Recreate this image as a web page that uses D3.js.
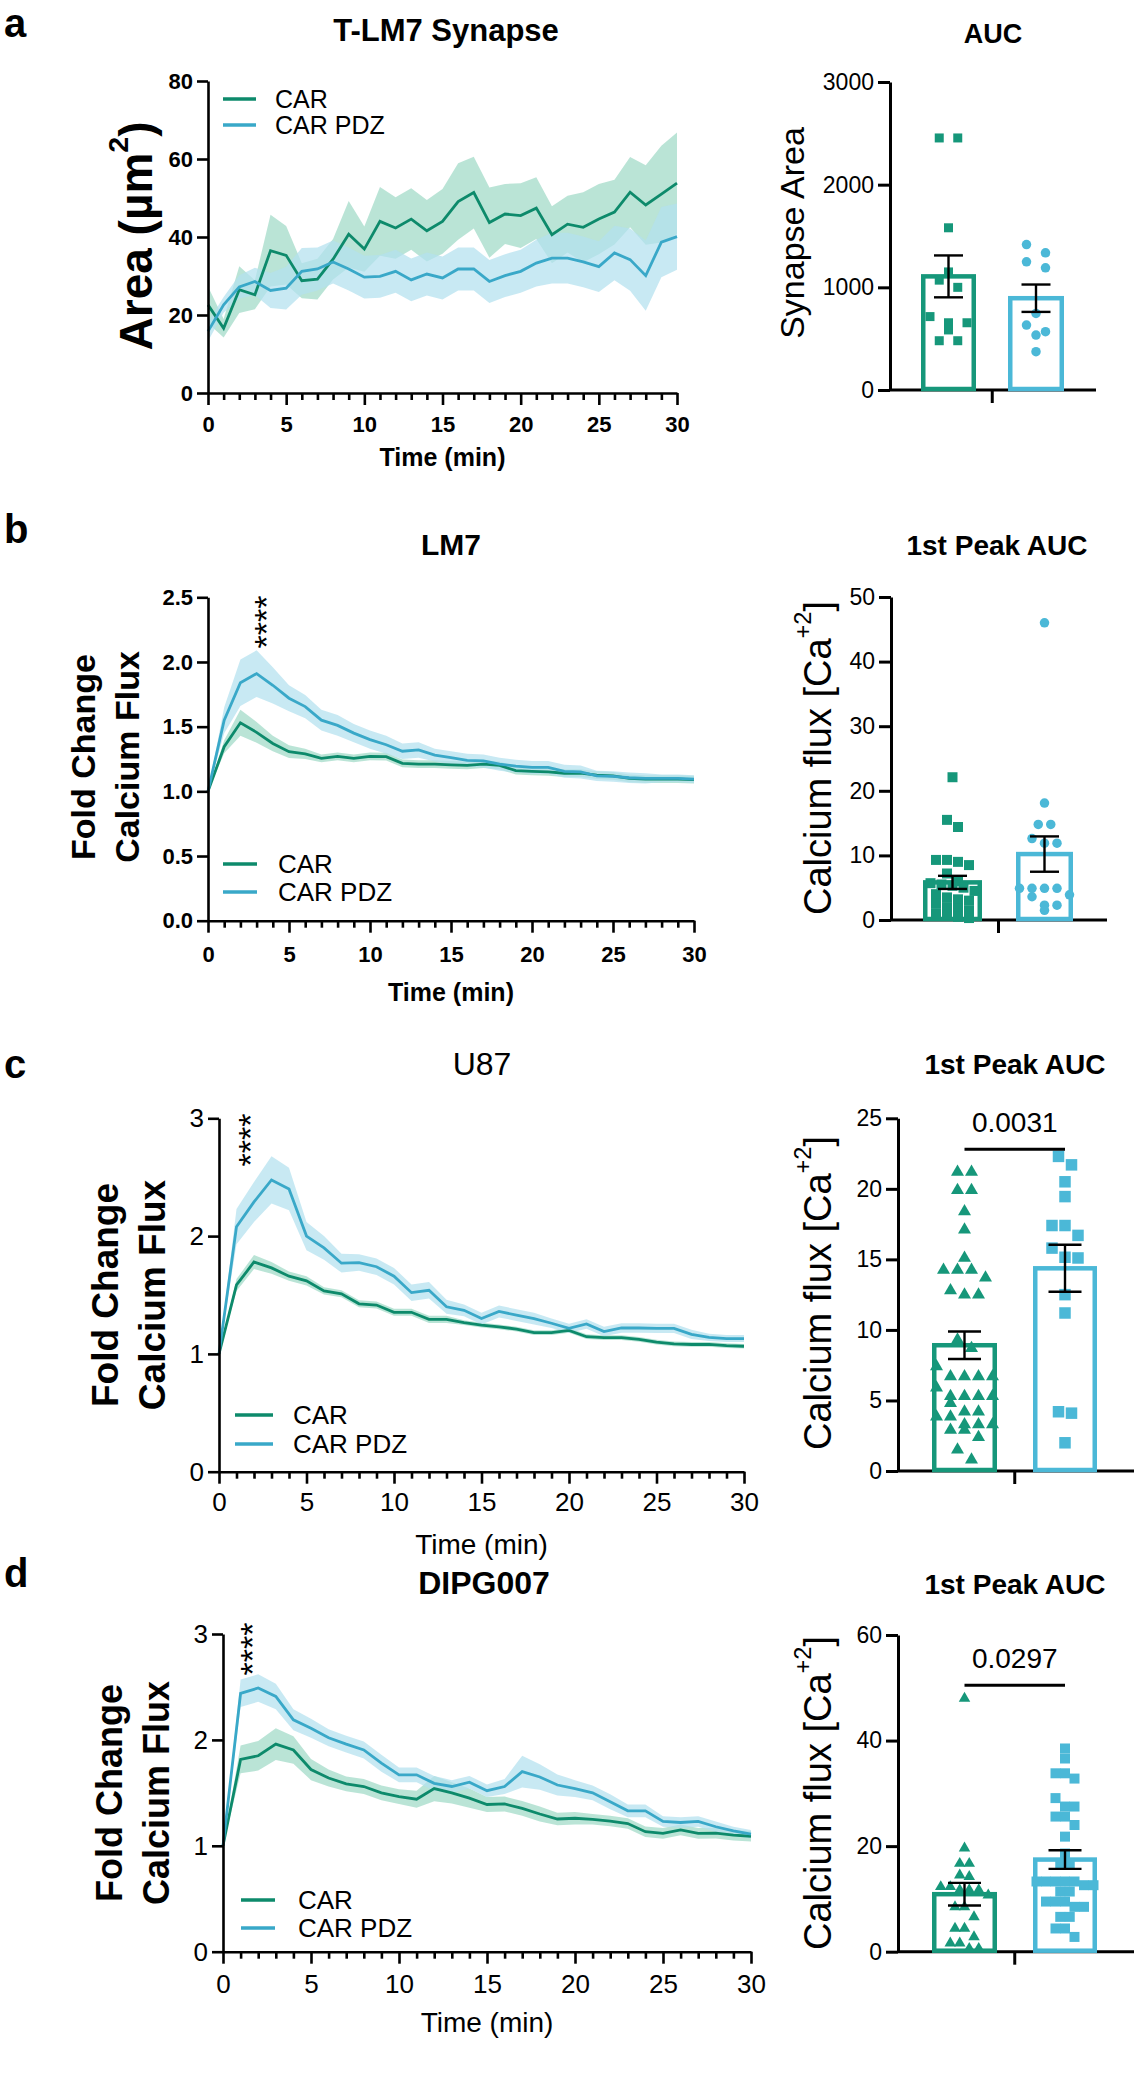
<!DOCTYPE html>
<html><head><meta charset="utf-8">
<script src="https://cdn.jsdelivr.net/npm/d3@7"></script>
<style>body{margin:0;background:#fff}</style>
</head><body>
<script>
// ---------- DATA ----------
const minutes = [0,1,2,3,4,5,6,7,8,9,10,11,12,13,14,15,16,17,18,19,20,21,22,23,24,25,26,27,28,29,30];
const seriesNames = ["CAR","CAR PDZ"];

// Panel a: T-LM7 synapse area (mean, SEM)
const aCarMean = [22.6,16.6,26.5,25.2,36.5,35.3,28.8,29.2,34.3,40.7,36.9,44.0,42.3,44.6,41.6,44.0,49.1,51.4,43.7,45.9,45.5,47.4,40.6,43.3,42.5,44.6,46.4,51.5,48.2,51.0,53.8];
const aCarSem  = [4.7,2.4,6.0,3.7,9.2,7.5,4.5,5.2,5.2,8.5,5.8,8.8,7.9,7.9,7.9,8.3,9.8,9.2,9.0,7.7,8.3,7.9,7.3,7.3,9.0,9.0,8.3,9.0,10.2,12.4,13.0];
const aPdzMean = [15.8,22.6,27.2,28.6,26.3,26.9,31.2,31.8,33.6,31.8,29.7,29.9,31.2,29.0,30.5,29.5,31.8,31.8,28.6,30.1,31.2,33.3,34.6,34.6,33.6,32.4,35.9,34.2,30.1,38.7,40.1];
const aPdzSem  = [2.5,2.0,3.0,3.5,4.5,5.5,6.0,5.5,5.5,5.5,5.5,5.5,5.5,5.5,5.5,5.5,5.5,5.5,5.5,5.5,5.5,6.0,6.5,6.5,6.5,6.5,7.0,8.0,9.0,9.0,8.5];
const aAucCar = [2455,2455,1580,1150,1070,1000,715,655,655,585,480,480];
const aAucPdz = [1417,1336,1249,1190,746,632,568,535,373];

// Panel b: LM7 calcium flux
const bCarMean = [1.0,1.345,1.53,1.456,1.37,1.307,1.29,1.255,1.27,1.255,1.27,1.268,1.216,1.21,1.21,1.205,1.2,1.21,1.2,1.16,1.155,1.15,1.14,1.14,1.126,1.12,1.1,1.095,1.095,1.095,1.09];
const bCarSem  = [0,0.05,0.1,0.08,0.06,0.05,0.04,0.03,0.03,0.03,0.03,0.03,0.03,0.03,0.03,0.03,0.03,0.03,0.03,0.03,0.03,0.03,0.03,0.03,0.03,0.03,0.03,0.03,0.03,0.03,0.03];
const bPdzMean = [1.0,1.55,1.84,1.91,1.82,1.72,1.655,1.55,1.51,1.45,1.40,1.36,1.31,1.32,1.28,1.26,1.24,1.235,1.21,1.195,1.185,1.185,1.155,1.15,1.12,1.115,1.105,1.1,1.1,1.1,1.095];
const bPdzSem  = [0,0.1,0.18,0.18,0.14,0.1,0.09,0.08,0.08,0.07,0.07,0.07,0.06,0.06,0.05,0.05,0.05,0.05,0.05,0.05,0.05,0.05,0.05,0.05,0.04,0.04,0.04,0.04,0.03,0.03,0.03];
const bAucCar = [22.1,15.5,14.4,9.3,9.3,9.0,8.5,7.2,6.0,5.7,5.5,5.3,5.0,4.5,4.0,3.5,3.2,3.0,2.5,2.0,1.8,1.5,1.0,0.8,0.5,0.3];
const bAucPdz = [46.0,18.1,14.8,14.8,12.6,11.9,11.9,4.9,4.9,4.9,4.9,3.9,3.6,2.3,2.3,1.5];

// Panel c: U87 calcium flux
const cCarMean = [1.0,1.585,1.78,1.73,1.66,1.62,1.535,1.51,1.425,1.415,1.353,1.353,1.293,1.293,1.265,1.245,1.23,1.21,1.18,1.18,1.2,1.146,1.138,1.138,1.124,1.10,1.085,1.08,1.08,1.07,1.065];
const cCarSem  = [0,0.05,0.06,0.05,0.04,0.04,0.03,0.03,0.03,0.03,0.03,0.03,0.03,0.03,0.02,0.02,0.02,0.02,0.02,0.02,0.02,0.02,0.02,0.02,0.02,0.02,0.02,0.02,0.02,0.02,0.02];
const cPdzMean = [1.0,2.08,2.29,2.477,2.4,2.0,1.9,1.77,1.775,1.74,1.66,1.52,1.54,1.4,1.37,1.3,1.36,1.33,1.3,1.26,1.217,1.254,1.19,1.22,1.22,1.217,1.217,1.166,1.14,1.13,1.13];
const cPdzSem  = [0,0.15,0.17,0.2,0.18,0.12,0.1,0.08,0.07,0.07,0.07,0.07,0.07,0.06,0.05,0.05,0.05,0.05,0.05,0.04,0.04,0.04,0.04,0.04,0.04,0.04,0.04,0.04,0.03,0.03,0.03];
const cAucCar = [21.2,21.2,19.9,19.9,18.4,17.1,15.1,14.25,14.25,14.25,13.7,12.8,12.5,12.5,9.3,8.7,7.4,6.7,6.7,6.7,6.7,5.9,5.3,5.3,5.3,5.3,4.8,4.2,4.2,3.85,3.85,3.3,3.3,3.3,2.9,2.9,2.4,1.5,0.8];
const cAucPdz = [22.3,21.7,20.5,19.45,17.4,17.4,16.7,15.8,15.15,15.1,12.5,11.2,4.2,4.1,2.0];
const cPValue = "0.0031";

// Panel d: DIPG007 calcium flux
const dCarMean = [1.0,1.816,1.85,1.96,1.905,1.72,1.64,1.585,1.56,1.5,1.465,1.44,1.54,1.5,1.45,1.39,1.395,1.353,1.3,1.253,1.26,1.25,1.234,1.21,1.133,1.117,1.15,1.117,1.12,1.1,1.09];
const dCarSem  = [0,0.13,0.14,0.15,0.13,0.1,0.08,0.07,0.07,0.07,0.07,0.08,0.12,0.1,0.09,0.07,0.07,0.07,0.07,0.06,0.06,0.05,0.05,0.05,0.05,0.05,0.05,0.05,0.05,0.05,0.05];
const dPdzMean = [1.0,2.44,2.49,2.41,2.19,2.11,2.02,1.96,1.905,1.78,1.67,1.67,1.59,1.56,1.6,1.52,1.56,1.7,1.65,1.574,1.54,1.5,1.416,1.33,1.33,1.23,1.22,1.23,1.18,1.14,1.11];
const dPdzSem  = [0,0.13,0.13,0.12,0.1,0.09,0.08,0.08,0.08,0.08,0.07,0.07,0.07,0.06,0.06,0.06,0.07,0.15,0.12,0.1,0.08,0.07,0.07,0.06,0.06,0.05,0.05,0.05,0.05,0.04,0.04];
const dAucCar = [48,19.6,16.7,16.7,14.5,14.2,12.3,12.3,11.7,11.7,11.7,10.7,8.5,8.5,6.6,4.4,4.4,2.8,1.6,1.6,0.6,0.6];
const dAucPdz = [38.5,36.6,33.8,33.8,32.8,29.1,27.5,27.5,25.6,25.6,24.0,21.8,18.6,16.7,16.7,13.3,13.3,13.3,13.3,13.3,12.6,12.6,11.4,11.4,9.5,9.5,9.5,8.5,8.5,6.6,6.6,4.4,4.4,2.8];
const dPValue = "0.0297";

// tick labels
const majorMinutes = [0,5,10,15,20,25,30];
const aYTicks = [0,20,40,60,80], aAucTicks = [0,1000,2000,3000];
const bYTicks = [0,0.5,1.0,1.5,2.0,2.5], bAucTicks = [0,10,20,30,40,50];
const cYTicks = [0,1,2,3], cAucTicks = [0,5,10,15,20,25];
const dYTicks = [0,1,2,3], dAucTicks = [0,20,40,60];

// ---------- STYLE ----------
const FONT = "'Liberation Sans', Arial, Helvetica, sans-serif";
const GREEN_LINE = "#0d8a6b", GREEN = "#16977a", GREEN_BAND = "#9fd9c6";
const BLUE_LINE = "#39a8c8", BLUE = "#4bb8d7", BLUE_BAND = "#b3e0ee";

const svg = d3.select("body").append("svg").attr("width",1134).attr("height",2100)
  .style("font-family", FONT);

function styleAxis(g, sw){
  g.selectAll("path.domain").attr("stroke","#000").attr("stroke-width",sw);
  g.selectAll(".tick line").attr("stroke","#000").attr("stroke-width",sw);
  g.selectAll("text").attr("fill","#000").style("font-family",FONT);
}

function addText(x,y,txt,size,weight,anchor){
  return svg.append("text").attr("x",x).attr("y",y).attr("font-size",size)
    .attr("font-weight",weight||400).attr("text-anchor",anchor||"middle").attr("fill","#000").text(txt);
}

function rotLabel(cx,cy,size,weight,parts){
  const t = svg.append("text").attr("transform",`translate(${cx},${cy}) rotate(-90)`)
    .attr("text-anchor","middle").attr("dominant-baseline","central")
    .attr("font-size",size).attr("font-weight",weight).attr("fill","#000");
  parts.forEach(p=>{
    const ts = t.append("tspan").text(p.t);
    if(p.sup){ ts.attr("font-size",size*0.62).attr("dy",-size*0.4); }
    if(p.after){ ts.attr("dy",size*0.4); }
  });
  return t;
}

// ---------- LINE PANELS ----------
function linePanel(p){
  const x = d3.scaleLinear().domain([0,30]).range([p.x0,p.x1]);
  const y = d3.scaleLinear().domain([0,p.ymax]).range([p.yb,p.yt]);
  const g = svg.append("g");
  const mk = (m,s)=>minutes.map((t,i)=>({t,m:m[i],s:s[i]}));
  const series = [
    {d:mk(p.car,p.carSem), line:GREEN_LINE, band:GREEN_BAND},
    {d:mk(p.pdz,p.pdzSem), line:BLUE_LINE, band:BLUE_BAND}
  ];
  const area = d3.area().x(d=>x(d.t)).y0(d=>y(d.m-d.s)).y1(d=>y(d.m+d.s));
  const line = d3.line().x(d=>x(d.t)).y(d=>y(d.m));
  series.forEach(s=>g.append("path").attr("d",area(s.d)).attr("fill",s.band).attr("fill-opacity",0.72));
  series.forEach(s=>g.append("path").attr("d",line(s.d)).attr("fill","none").attr("stroke",s.line).attr("stroke-width",2.8));

  // axes
  const ya = g.append("g").attr("transform",`translate(${p.x0},0)`)
    .call(d3.axisLeft(y).tickValues(p.yticks).tickSize(11).tickSizeOuter(0).tickPadding(4).tickFormat(p.yfmt));
  ya.selectAll("text").attr("font-size",p.tickSize).attr("font-weight",p.tickWeight);
  styleAxis(ya,2.6);
  const xa = g.append("g").attr("transform",`translate(0,${p.yb})`)
    .call(d3.axisBottom(x).tickValues(majorMinutes).tickSize(12).tickSizeOuter(0).tickFormat(d3.format("d")));
  xa.selectAll("text").attr("font-size",p.tickSize).attr("font-weight",p.tickWeight).attr("y",p.xlabOff).attr("dy",0);
  styleAxis(xa,2.6);
  const xm = g.append("g").attr("transform",`translate(0,${p.yb})`)
    .call(d3.axisBottom(x).tickValues(minutes.filter(m=>m%5!==0)).tickSize(7).tickFormat(""));
  xm.select("path.domain").remove();
  styleAxis(xm,2.6);

  // labels
  addText(p.letter.x,p.letter.y,p.letter.t,40,700,"start");
  addText(p.title.x,p.title.y,p.title.t,p.title.size,p.title.weight);
  addText((p.x0+p.x1)/2,p.xlab.y,"Time (min)",p.xlab.size,p.xlab.weight);
  p.ylab.forEach(l=>rotLabel(l.x,p.ylabCy,p.ylabSize,700,l.parts));

  // legend
  seriesNames.forEach((n,i)=>{
    const yy = p.leg.ys[i];
    g.append("line").attr("x1",p.leg.x1).attr("x2",p.leg.x2).attr("y1",yy).attr("y2",yy)
      .attr("stroke",i===0?GREEN_LINE:BLUE_LINE).attr("stroke-width",3.5);
    g.append("text").attr("x",p.leg.tx).attr("y",yy).attr("dy","0.36em").attr("font-size",p.leg.size).text(n);
  });

  // significance stars
  if(p.stars){
    g.append("text").attr("transform",`translate(${x(p.stars.t)+p.stars.dx},${p.stars.cy}) rotate(-90)`)
      .attr("text-anchor","middle").attr("dy","0.62em").attr("font-size",34).text("****");
  }
}

// ---------- BAR PANELS ----------
function swarm(values, cx, y, size, gap, maxRow){
  const pts = values.map(v=>({v,y:y(v)})).sort((a,b)=>b.v-a.v);
  const rows = [];
  let cur = null;
  pts.forEach(pt=>{
    if(cur && Math.abs(pt.y-cur.y0)<size*0.9 && cur.pts.length<maxRow){ cur.pts.push(pt); }
    else { cur = {y0:pt.y, pts:[pt]}; rows.push(cur); }
  });
  rows.forEach(r=>r.pts.forEach((pt,i)=>{ pt.x = cx + (i-(r.pts.length-1)/2)*gap; }));
  return pts;
}

function barPanel(p){
  const y = d3.scaleLinear().domain([0,p.ymax]).range([p.yb,p.yt]);
  const g = svg.append("g");
  const ya = g.append("g").attr("transform",`translate(${p.ax},0)`)
    .call(d3.axisLeft(y).tickValues(p.yticks).tickSize(12).tickSizeOuter(0).tickPadding(4).tickFormat(d3.format("d")));
  ya.selectAll("text").attr("font-size",23);
  styleAxis(ya,3);
  const xs = d3.scalePoint().domain(seriesNames).range([p.groups[0].cx,p.groups[1].cx]);
  const mid = (xs(seriesNames[0])+xs(seriesNames[1]))/2;
  g.append("line").attr("x1",p.ax).attr("x2",p.xEnd).attr("y1",p.yb).attr("y2",p.yb).attr("stroke","#000").attr("stroke-width",3);
  g.append("line").attr("x1",mid).attr("x2",mid).attr("y1",p.yb).attr("y2",p.yb+13).attr("stroke","#000").attr("stroke-width",3);

  p.groups.forEach((gr,i)=>{
    const cx = xs(seriesNames[i]);
    const col = i===0?GREEN:BLUE;
    const mean = d3.mean(gr.values);
    const sem = d3.deviation(gr.values)/Math.sqrt(gr.values.length);
    const sw = 4.5;
    g.append("rect").attr("x",cx-gr.w/2+sw/2).attr("width",gr.w-sw)
      .attr("y",y(mean)).attr("height",p.yb-y(mean)-1)
      .attr("fill","#fff").attr("stroke",col).attr("stroke-width",sw);
    const sym = d3.symbol().type(gr.shape==="square"?d3.symbolSquare:gr.shape==="circle"?d3.symbolCircle:d3.symbolTriangle)
      .size(gr.shape==="square"?gr.size*gr.size:gr.shape==="circle"?Math.PI*gr.size*gr.size/4:gr.size*gr.size*Math.sqrt(3)/4);
    swarm(gr.values,cx,y,gr.size,gr.gap,gr.maxRow).forEach(pt=>{
      g.append("path").attr("d",sym()).attr("transform",`translate(${pt.x},${pt.y})`).attr("fill",col);
    });
    const hw = p.capW/2;
    const e = g.append("g").attr("stroke","#000").attr("stroke-width",2.4);
    e.append("line").attr("x1",cx).attr("x2",cx).attr("y1",y(mean-sem)).attr("y2",y(mean+sem));
    e.append("line").attr("x1",cx-hw).attr("x2",cx+hw).attr("y1",y(mean-sem)).attr("y2",y(mean-sem));
    e.append("line").attr("x1",cx-hw).attr("x2",cx+hw).attr("y1",y(mean+sem)).attr("y2",y(mean+sem));
  });

  if(p.sig){
    g.append("line").attr("x1",xs(seriesNames[0])).attr("x2",xs(seriesNames[1]))
      .attr("y1",y(p.sig.v)).attr("y2",y(p.sig.v)).attr("stroke","#000").attr("stroke-width",3);
    addText(mid,p.sig.ty,p.sig.t,28,400);
  }
  addText(p.title.x,p.title.y,p.title.t,p.title.size,700);
  rotLabel(p.ylab.x,p.ylab.cy,p.ylab.size,400,p.ylab.parts);
}

// ---------- BUILD ----------
linePanel({x0:208,x1:677,yb:393,yt:81,ymax:80,yticks:aYTicks,yfmt:d3.format("d"),tickSize:22,tickWeight:700,xlabOff:39,
  car:aCarMean,carSem:aCarSem,pdz:aPdzMean,pdzSem:aPdzSem,
  letter:{x:4,y:37,t:"a"},title:{x:446,y:41,t:"T-LM7 Synapse",size:31,weight:700},
  xlab:{y:466,size:25,weight:700},
  ylab:[{x:136,parts:[{t:"Area (µm"},{t:"2",sup:true},{t:")",after:true}]}],ylabCy:236,ylabSize:46,
  leg:{x1:223,x2:256,ys:[99,125],tx:275,size:25}});

barPanel({ax:890,yb:390,yt:82,ymax:3000,yticks:aAucTicks,xEnd:1096,capW:29,
  groups:[{values:aAucCar,shape:"square",size:9,gap:18.5,maxRow:3,cx:948.5,w:55},
          {values:aAucPdz,shape:"circle",size:9.5,gap:19,maxRow:3,cx:1036,w:56}],
  title:{x:993,y:43,t:"AUC",size:27},
  ylab:{x:792,cy:233,size:34,parts:[{t:"Synapse Area"}]}});

linePanel({x0:208,x1:694,yb:920.7,yt:597.3,ymax:2.5,yticks:bYTicks,yfmt:d3.format(".1f"),tickSize:22,tickWeight:700,xlabOff:41,
  car:bCarMean,carSem:bCarSem,pdz:bPdzMean,pdzSem:bPdzSem,
  letter:{x:4,y:543,t:"b"},title:{x:451,y:555,t:"LM7",size:30,weight:700},
  xlab:{y:1001,size:25,weight:700},
  ylab:[{x:83,parts:[{t:"Fold Change"}]},{x:127,parts:[{t:"Calcium Flux"}]}],ylabCy:757,ylabSize:34,
  leg:{x1:223,x2:257,ys:[864,892],tx:278,size:26},stars:{t:3,dx:0,cy:622}});

barPanel({ax:891,yb:920,yt:597,ymax:50,yticks:bAucTicks,xEnd:1107,capW:29,
  groups:[{values:bAucCar,shape:"square",size:10,gap:11,maxRow:5,cx:952.5,w:59},
          {values:bAucPdz,shape:"circle",size:9.5,gap:12.5,maxRow:5,cx:1044.5,w:57}],
  title:{x:997,y:555,t:"1st Peak AUC",size:28},
  ylab:{x:818,cy:758,size:38,parts:[{t:"Calcium flux [Ca"},{t:"+2",sup:true},{t:"]",after:true}]}});

linePanel({x0:219,x1:744,yb:1471.7,yt:1118.3,ymax:3,yticks:cYTicks,yfmt:d3.format("d"),tickSize:26,tickWeight:400,xlabOff:39,
  car:cCarMean,carSem:cCarSem,pdz:cPdzMean,pdzSem:cPdzSem,
  letter:{x:4,y:1078,t:"c"},title:{x:482,y:1075,t:"U87",size:32,weight:400},
  xlab:{y:1554,size:28,weight:400},
  ylab:[{x:105,parts:[{t:"Fold Change"}]},{x:152,parts:[{t:"Calcium Flux"}]}],ylabCy:1295,ylabSize:37,
  leg:{x1:235,x2:273,ys:[1415,1444],tx:293,size:26},stars:{t:1,dx:4,cy:1140}});

barPanel({ax:898,yb:1471,yt:1118.3,ymax:25,yticks:cAucTicks,xEnd:1134,capW:33,
  groups:[{values:cAucCar,shape:"triangle",size:13,gap:14,maxRow:5,cx:964.5,w:65},
          {values:cAucPdz,shape:"square",size:11.5,gap:13,maxRow:5,cx:1065,w:64}],
  sig:{v:22.8,t:cPValue,ty:1132},
  title:{x:1015,y:1074,t:"1st Peak AUC",size:28},
  ylab:{x:818,cy:1293,size:38,parts:[{t:"Calcium flux [Ca"},{t:"+2",sup:true},{t:"]",after:true}]}});

linePanel({x0:223,x1:751,yb:1951.7,yt:1634,ymax:3,yticks:dYTicks,yfmt:d3.format("d"),tickSize:26,tickWeight:400,xlabOff:41,
  car:dCarMean,carSem:dCarSem,pdz:dPdzMean,pdzSem:dPdzSem,
  letter:{x:4,y:1587,t:"d"},title:{x:484,y:1594,t:"DIPG007",size:32,weight:700},
  xlab:{y:2032,size:28,weight:400},
  ylab:[{x:109,parts:[{t:"Fold Change"}]},{x:156,parts:[{t:"Calcium Flux"}]}],ylabCy:1793,ylabSize:36,
  leg:{x1:241,x2:275,ys:[1900,1928],tx:298,size:26},stars:{t:1,dx:2,cy:1649}});

barPanel({ax:898,yb:1951.7,yt:1635,ymax:60,yticks:dAucTicks,xEnd:1134,capW:33,
  groups:[{values:dAucCar,shape:"triangle",size:11.5,gap:9.5,maxRow:7,cx:964.5,w:65},
          {values:dAucPdz,shape:"square",size:10,gap:9.5,maxRow:7,cx:1065,w:64}],
  sig:{v:50.5,t:dPValue,ty:1668},
  title:{x:1015,y:1594,t:"1st Peak AUC",size:28},
  ylab:{x:818,cy:1793,size:38,parts:[{t:"Calcium flux [Ca"},{t:"+2",sup:true},{t:"]",after:true}]}});
</script>
</body></html>
